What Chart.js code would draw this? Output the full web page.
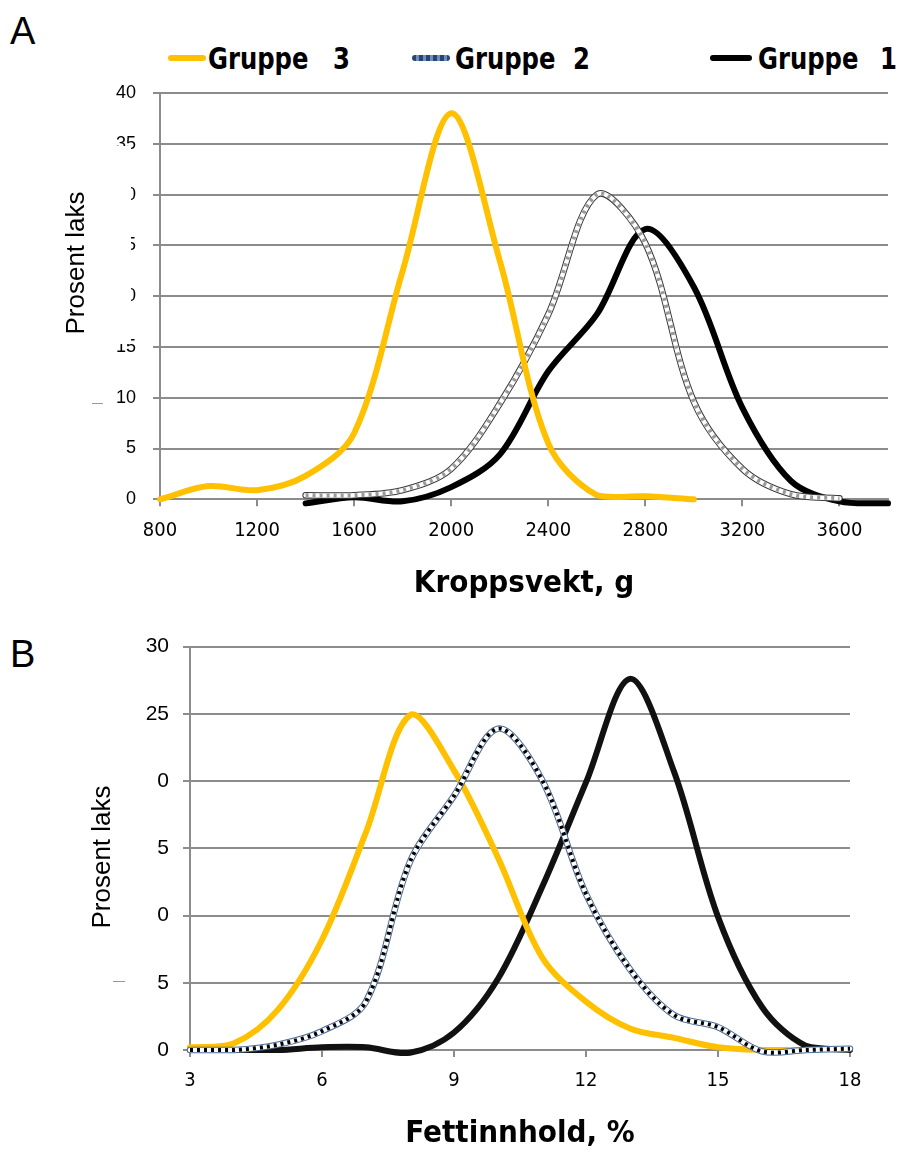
<!DOCTYPE html>
<html>
<head>
<meta charset="utf-8">
<script src="https://cdn.jsdelivr.net/npm/chart.js@4.4.1/dist/chart.umd.min.js"></script>
<style>
  body { margin: 0; background: #fff; }
  #side { position: relative; width: 898px; height: 1151px; overflow: hidden; }
  canvas { position: absolute; left: 0; }
  .panel { position: absolute; left: 10px; font: 38px "Liberation Sans", Arial, sans-serif; color: #000; }
  .leg-txt { position: absolute; top: 41px; line-height: 30px; white-space: nowrap;
             font: bold 30px "Liberation Sans Narrow", "DejaVu Sans Condensed", sans-serif; color: #000;
             transform: scaleX(0.9); transform-origin: left center; }
  .leg-strek { position: absolute; top: 55px; height: 6px; border-radius: 3px; }
</style>
</head>
<body>
<div id="side">
  <div class="panel" style="top:10px">A</div>
  <div class="panel" style="top:633px">B</div>

  <!-- Forklaring (legend) over diagram A -->
  <div class="leg-strek" style="left:168px;width:38px;background:#FFC000"></div>
  <div class="leg-txt" style="left:208px">Gruppe</div>
  <div class="leg-txt" style="left:333px">3</div>
  <div class="leg-strek" style="left:412px;width:38px;background:repeating-linear-gradient(90deg,#26466f 0 4px,#6d8fbf 4px 7px)"></div>
  <div class="leg-txt" style="left:455px">Gruppe</div>
  <div class="leg-txt" style="left:573px">2</div>
  <div class="leg-strek" style="left:710px;width:42px;background:#000"></div>
  <div class="leg-txt" style="left:758px">Gruppe</div>
  <div class="leg-txt" style="left:880px">1</div>

  <canvas id="diagramA" width="898" height="620" style="top:0"></canvas>
  <canvas id="diagramB" width="898" height="531" style="top:620px"></canvas>
</div>

<script>
// ── Data: andel laks (%) per vektklasse og fettklasse ─────────────
const vektX       = [800, 1000, 1200, 1400, 1600, 1800, 2000, 2200, 2400, 2600, 2800, 3000, 3200, 3400, 3600, 3800];
const vektGruppe3 = [0, 1.3, 0.9, 2.3, 6.5, 22.5, 38, 23.5, 5.5, 0.4, 0.3, 0, null, null, null, null];
const vektGruppe2 = [null, null, null, 0.4, 0.4, 0.9, 3.0, 9.4, 18.2, 30, 25.2, 9.6, 3.0, 0.5, 0.1, null];
const vektGruppe1 = [null, null, null, -0.4, 0.2, -0.2, 1.2, 4.4, 12.6, 18.2, 26.6, 20.9, 9.0, 1.8, -0.2, -0.4];

const fettX       = [3, 4, 5, 6, 7, 8, 9, 10, 11, 12, 13, 14, 15, 16, 17, 18];
const fettGruppe3 = [0.2, 0.5, 3.0, 8.2, 16.2, 24.9, 20.8, 14.3, 6.9, 3.6, 1.6, 0.9, 0.2, 0, 0, null];
const fettGruppe2 = [0, 0, 0.4, 1.4, 3.6, 14.0, 18.9, 23.9, 20.1, 11.6, 6.0, 2.6, 1.7, -0.1, 0, 0.1];
const fettGruppe1 = [0, 0, 0, 0.2, 0.2, -0.2, 1.3, 5.3, 12.1, 19.9, 27.6, 20.7, 9.9, 3.2, 0.3, 0];

const yTittel = 'Prosent laks';

// ── Hjelpefunksjoner ──────────────────────────────────────────────
const SMAL   = '"Liberation Sans Narrow", "DejaVu Sans Condensed", sans-serif';
const VANLIG = '"Liberation Sans", Arial, sans-serif';
const GRID   = '#8c8c8c';

function punkter(xs, ys) {
  return xs.map((x, i) => ({ x: x, y: ys[i] })).filter(p => p.y !== null);
}

function linje(data, farge, bredde, order, dash) {
  return {
    data           : data,
    borderColor    : farge,
    borderWidth    : bredde,
    borderDash     : dash || [],
    borderCapStyle : dash ? 'butt' : 'round',
    borderJoinStyle: 'round',
    pointRadius    : 0,
    tension        : 0.33,
    clip           : false,
    order          : order
  };
}

// Gruppe 2 tegnes som tre lag: kant, hvit kjerne, stiplet midte
function gruppe2(data, kant, strek, start) {
  return [
    linje(data, kant,  6.5, start + 2),
    linje(data, '#fff', 4.5, start + 1),
    linje(data, strek, 4,   start, [3, 4])
  ];
}

// Hvit boks over y-etikettene + y-tittel (som i originalen)
const dekkPlugin = {
  id: 'dekk',
  afterDraw(chart, args, o) {
    const c = chart.ctx;
    c.save();
    c.fillStyle = '#fff';
    c.fillRect(o.boks[0], o.boks[1], o.boks[2], o.boks[3]);
    c.translate(o.tx, o.ty);
    c.rotate(-Math.PI / 2);
    c.fillStyle = '#000';
    c.font = '26px ' + VANLIG;
    c.textAlign = 'center';
    c.textBaseline = 'middle';
    c.fillText(yTittel, 0, 0);
    c.restore();
    c.save();
    c.strokeStyle = '#999';
    c.lineWidth = 1;
    c.beginPath();
    c.moveTo(o.strek[0], o.strek[1] + 0.5);
    c.lineTo(o.strek[0] + o.strek[2], o.strek[1] + 0.5);
    c.stroke();
    c.restore();
  }
};

function lagDiagram(id, datasett, x, y, cfg) {
  return new Chart(document.getElementById(id), {
    type: 'line',
    data: { datasets: datasett },
    plugins: [dekkPlugin],
    options: {
      responsive: false,
      animation : false,
      layout    : { padding: cfg.padding },
      plugins   : {
        legend : { display: false },
        tooltip: { enabled: false },
        dekk   : cfg.dekk
      },
      scales: {
        x: {
          type : 'linear',
          min  : x.min, max: x.max,
          afterFit: s => { s.height = cfg.xHoyde; },
          border: { color: GRID, width: 2 },
          grid : { drawOnChartArea: false, color: GRID, lineWidth: 2, tickLength: 7 },
          ticks: { stepSize: x.steg, includeBounds: false, color: '#000', padding: 12,
                   font: { family: SMAL, size: 20 }, callback: v => String(v) },
          title: { display: true, text: x.tittel, color: '#000',
                   padding: { top: 0, bottom: cfg.titPad },
                   font: { family: SMAL, size: 31, weight: 'bold', lineHeight: 1.1 } }
        },
        y: {
          min: 0, max: y.max,
          afterFit: s => { s.width = cfg.yBredde; },
          border: { color: GRID, width: 2 },
          grid : { color: GRID, lineWidth: 2, tickLength: 7 },
          ticks: { stepSize: 5, color: '#000', padding: cfg.yPad,
                   font: { family: VANLIG, size: cfg.ySize } }
        }
      }
    }
  });
}

// ── Diagram A: kroppsvekt ────────────────────────────────────────
lagDiagram('diagramA',
  [
    linje(punkter(vektX, vektGruppe3), '#FFC000', 6, 0),
    ...gruppe2(punkter(vektX, vektGruppe2), '#3a3a3a', '#9a9a9a', 1),
    linje(punkter(vektX, vektGruppe1), '#000', 6, 5)
  ],
  { min: 800, max: 3800, steg: 400, tittel: 'Kroppsvekt, g' },
  { max: 40 },
  { padding: { left: 0, right: 10, top: 93, bottom: 0 },
    xHoyde: 120.7, yBredde: 160, titPad: 19, yPad: 17, ySize: 18,
    dekk: { boks: [55, 146, 76, 198], tx: 77, ty: 263, strek: [92, 403, 11] } }
);

// ── Diagram B: fettinnhold ───────────────────────────────────────
lagDiagram('diagramB',
  [
    ...gruppe2(punkter(fettX, fettGruppe2), '#4a6a9a', '#000', 0),
    linje(punkter(fettX, fettGruppe3), '#FFC000', 6, 3),
    linje(punkter(fettX, fettGruppe1), '#111', 6, 4)
  ],
  { min: 3, max: 18, steg: 3, tittel: 'Fettinnhold, %' },
  { max: 30 },
  { padding: { left: 0, right: 48, top: 23, bottom: 0 },
    xHoyde: 101, yBredde: 190, titPad: 0, yPad: 14, ySize: 21,
    dekk: { boks: [60, 145, 97, 160], tx: 103, ty: 237, strek: [113, 361, 12] } }
);
</script>
</body>
</html>
